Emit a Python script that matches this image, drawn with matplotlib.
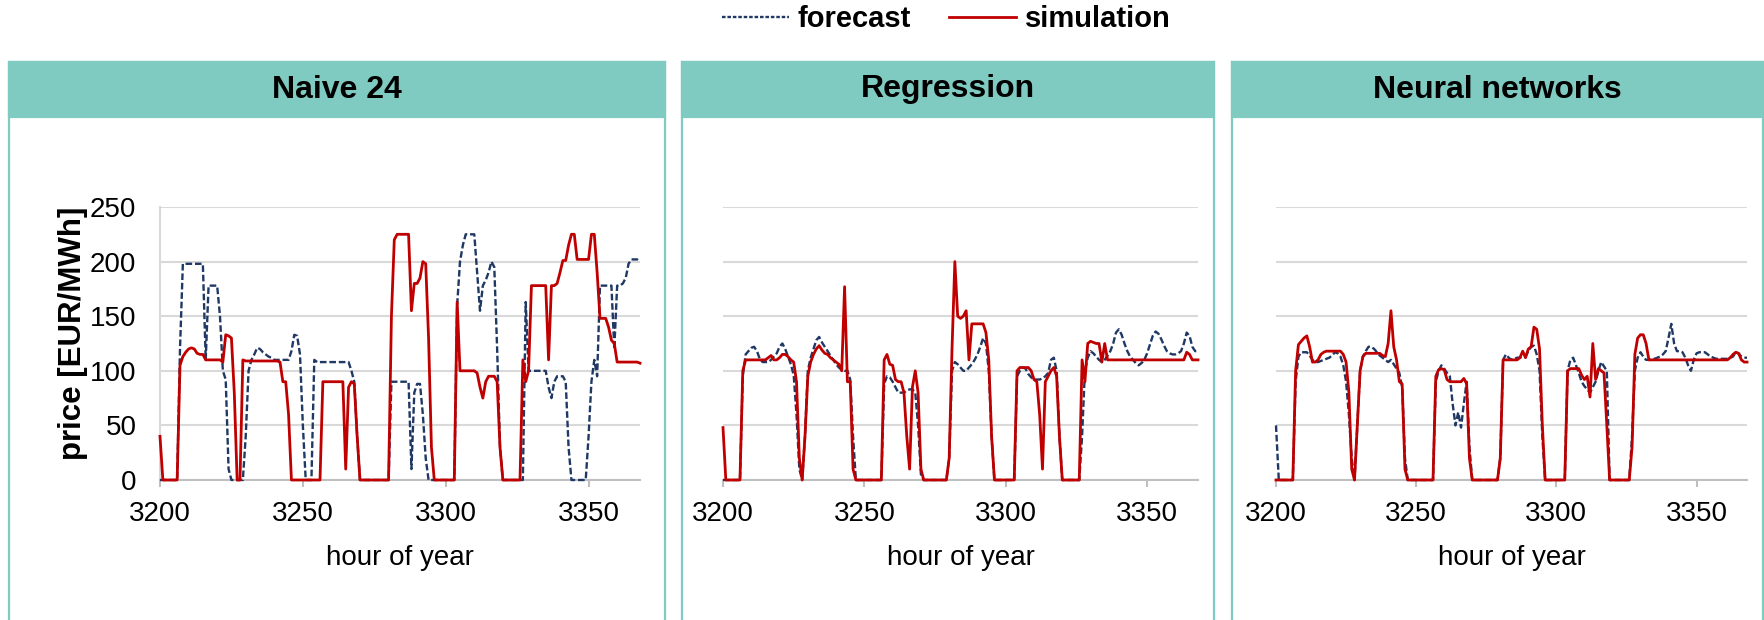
import matplotlib
matplotlib.use("Agg")
import matplotlib.pyplot as plt
from matplotlib.lines import Line2D
from matplotlib.patches import Rectangle

plt.rcParams["font.family"] = ["Liberation Sans", "DejaVu Sans"]

# hour of year 3200 .. 3368 (one week, hourly)
hours = list(range(3200, 3369))

naive_fc = [
    0, 0, 0, 0, 0, 0, 0, 120, 198, 198, 198, 198,
    198, 198, 198, 198, 110, 178, 178, 178, 178, 150, 100, 92,
    10, 0, 0, 0, 0, 0, 40, 100, 110, 115, 121, 120,
    117, 115, 113, 112, 110, 110, 110, 110, 110, 110, 118, 133,
    132, 115, 50, 0, 0, 0, 110, 108, 108, 108, 108, 108,
    108, 108, 108, 108, 108, 108, 108, 100, 90, 40, 0, 0,
    0, 0, 0, 0, 0, 0, 0, 0, 0, 90, 90, 90,
    90, 90, 90, 90, 10, 80, 88, 88, 60, 20, 0, 0,
    0, 0, 0, 0, 0, 0, 0, 0, 160, 200, 215, 225,
    225, 225, 225, 190, 155, 178, 183, 190, 200, 195, 120, 30,
    0, 0, 0, 0, 0, 0, 0, 0, 163, 100, 100, 100,
    100, 100, 100, 100, 85, 75, 90, 95, 95, 95, 90, 30,
    0, 0, 0, 0, 0, 0, 40, 90, 110, 95, 178, 178,
    178, 178, 178, 120, 178, 178, 180, 185, 198, 202, 202, 202,
    200,
]
naive_sim = [
    40, 0, 0, 0, 0, 0, 0, 105, 113, 117, 120, 121,
    120, 116, 115, 115, 110, 110, 110, 110, 110, 110, 108, 133,
    132, 130, 80, 0, 0, 110, 109, 109, 109, 109, 109, 109,
    109, 109, 109, 109, 109, 109, 108, 90, 90, 60, 0, 0,
    0, 0, 0, 0, 0, 0, 0, 0, 0, 90, 90, 90,
    90, 90, 90, 90, 90, 10, 85, 90, 88, 40, 0, 0,
    0, 0, 0, 0, 0, 0, 0, 0, 0, 150, 220, 225,
    225, 225, 225, 225, 155, 180, 180, 185, 200, 198, 130, 30,
    0, 0, 0, 0, 0, 0, 0, 0, 163, 100, 100, 100,
    100, 100, 100, 98, 85, 75, 90, 95, 95, 95, 90, 30,
    0, 0, 0, 0, 0, 0, 0, 110, 90, 100, 178, 178,
    178, 178, 178, 178, 110, 178, 178, 180, 190, 201, 201, 215,
    225, 225, 202, 202, 202, 202, 202, 225, 225, 190, 148, 148,
    148, 140, 128, 125, 108, 108, 108, 108, 108, 108, 108, 108,
    107,
]

regr_fc = [
    0, 0, 0, 0, 0, 0, 0, 95, 115, 118, 121, 122,
    118, 111, 108, 108, 108, 110, 113, 116, 122, 125, 120, 113,
    106, 96, 60, 10, 0, 40, 100, 112, 120, 128, 131, 126,
    122, 118, 114, 110, 106, 103, 101, 100, 100, 92, 40, 0,
    0, 0, 0, 0, 0, 0, 0, 0, 0, 88, 95, 94,
    90, 85, 80, 80, 80, 82, 83, 83, 80, 50, 5, 0,
    0, 0, 0, 0, 0, 0, 0, 0, 20, 100, 108, 106,
    103, 100, 100, 103, 106, 110, 115, 122, 130, 125, 100, 40,
    0, 0, 0, 0, 0, 0, 0, 0, 95, 100, 103, 102,
    97, 94, 92, 92, 92, 93, 95, 98, 110, 112, 100, 40,
    0, 0, 0, 0, 0, 0, 0, 40, 100, 112, 118, 116,
    113, 110, 108, 110, 114, 118, 125, 135, 138, 133, 125, 118,
    113, 110, 107, 105, 107, 110, 116, 124, 132, 136, 134, 129,
    123, 118, 116, 115, 115, 116, 118, 125, 135, 132, 122, 118,
    118,
]
regr_sim = [
    48, 0, 0, 0, 0, 0, 0, 100, 110, 110, 110, 110,
    110, 110, 110, 110, 112, 114, 110, 110, 112, 115, 115, 113,
    110, 108, 90, 20, 0, 40, 95, 108, 115, 120, 123, 119,
    116, 115, 112, 110, 108, 106, 100, 177, 90, 90, 10, 0,
    0, 0, 0, 0, 0, 0, 0, 0, 0, 110, 115, 106,
    105, 92, 90, 90, 80, 40, 10, 85, 100, 80, 10, 0,
    0, 0, 0, 0, 0, 0, 0, 0, 20, 120, 200, 150,
    148, 150, 155, 110, 143, 143, 143, 143, 143, 135, 110, 40,
    0, 0, 0, 0, 0, 0, 0, 0, 100, 103, 103, 103,
    103, 100, 92, 90, 60, 10, 90, 95, 100, 103, 95, 40,
    0, 0, 0, 0, 0, 0, 0, 110, 90, 125, 127, 126,
    125, 125, 108, 125, 110, 110, 110, 110, 110, 110, 110, 110,
    110, 110, 110, 110, 110, 110, 110, 110, 110, 110, 110, 110,
    110, 110, 110, 110, 110, 110, 110, 110, 117, 115, 110, 110,
    110,
]

nn_fc = [
    50, 0, 0, 0, 0, 0, 0, 90, 113, 117, 117, 117,
    114, 110, 108, 108, 109, 110, 111, 112, 114, 117, 116, 113,
    105, 90, 60, 20, 0, 50, 100, 113, 118, 122, 122, 120,
    117, 114, 112, 110, 108, 110, 106, 102, 98, 85, 20, 0,
    0, 0, 0, 0, 0, 0, 0, 0, 0, 90, 100, 105,
    102, 98, 95, 70, 50, 62, 48, 70, 90, 30, 0, 0,
    0, 0, 0, 0, 0, 0, 0, 0, 20, 110, 115, 112,
    110, 111, 112, 112, 113, 113, 118, 122, 123, 115, 100, 40,
    0, 0, 0, 0, 0, 0, 0, 0, 100, 110, 112, 105,
    98, 90, 86, 83, 80, 85, 90, 100, 108, 104, 100, 0,
    0, 0, 0, 0, 0, 0, 0, 40, 100, 112, 117, 113,
    110, 110, 110, 111, 112, 113, 115, 118, 130, 143, 125, 118,
    118, 117, 112, 105, 100, 110, 116, 117, 117, 117, 115, 113,
    112, 111, 111, 111, 111, 111, 112, 113, 117, 116, 113, 112,
    112,
]
nn_sim = [
    0, 0, 0, 0, 0, 0, 0, 100, 124, 127, 130, 132,
    122, 108, 108, 110, 115, 117, 118, 118, 118, 118, 118, 118,
    115, 108, 80, 10, 0, 50, 100, 113, 116, 116, 116, 116,
    116, 116, 114, 113, 125, 155, 122, 110, 90, 88, 10, 0,
    0, 0, 0, 0, 0, 0, 0, 0, 0, 95, 101, 102,
    101, 92, 90, 90, 90, 90, 90, 93, 88, 20, 0, 0,
    0, 0, 0, 0, 0, 0, 0, 0, 20, 110, 110, 110,
    110, 110, 110, 112, 118, 112, 120, 122, 140, 138, 120, 50,
    0, 0, 0, 0, 0, 0, 0, 0, 100, 102, 102, 102,
    102, 96, 92, 95, 76, 125, 92, 102, 100, 98, 50, 0,
    0, 0, 0, 0, 0, 0, 0, 30, 115, 130, 133, 133,
    125, 110, 110, 110, 110, 110, 110, 110, 110, 110, 110, 110,
    110, 110, 110, 110, 110, 110, 110, 110, 110, 110, 110, 110,
    110, 110, 110, 110, 110, 110, 112, 115, 117, 116, 110, 108,
    108,
]

titles = ["Naive 24", "Regression", "Neural networks"]
forecasts = [naive_fc, regr_fc, nn_fc]
simulations = [naive_sim, regr_sim, nn_sim]

W, H = 1765, 620
TEAL = "#7fcbc1"
BLUE = "#1f3864"
RED = "#c00000"
GRID = "#d9d9d9"
AXC = "#bfbfbf"
DASH = (0, (2.8, 1.2))

fig = plt.figure(figsize=(W / 100, H / 100), dpi=100)

# panel boxes (pixels): x0, x1 of box, axes left/right
boxes = [(9, 665, 160, 640), (682, 1214, 723, 1198), (1232, 1763, 1276, 1747)]
ax_top, ax_bot = 207, 480
hdr_top, hdr_bot = 62, 117

for i, (bx0, bx1, axl, axr) in enumerate(boxes):
    # outer frame runs off the bottom of the figure
    fig.patches.append(Rectangle((bx0 / W, -0.05), (bx1 - bx0) / W, 1.05 - hdr_top / H,
                                 transform=fig.transFigure, fill=False,
                                 edgecolor=TEAL, lw=1.6, zorder=0))
    fig.patches.append(Rectangle((bx0 / W, 1 - hdr_bot / H), (bx1 - bx0) / W,
                                 (hdr_bot - hdr_top) / H, transform=fig.transFigure,
                                 facecolor=TEAL, edgecolor=TEAL, lw=1.6, zorder=0))
    fig.text((bx0 + bx1) / 2 / W, 1 - (hdr_top + hdr_bot) / 2 / H, titles[i],
             ha="center", va="center", fontsize=23, fontweight="bold")

    ax = fig.add_axes([axl / W, 1 - ax_bot / H, (axr - axl) / W, (ax_bot - ax_top) / H])
    ax.plot(hours, forecasts[i], color=BLUE, lw=1.7, ls=DASH, clip_on=False,
            dash_joinstyle="round", zorder=3)
    ax.plot(hours, simulations[i], color=RED, lw=2.0, clip_on=False,
            solid_joinstyle="round", zorder=4)

    ax.set_xlim(3200, 3368)
    ax.set_ylim(0, 250)
    ax.set_xticks([3200, 3250, 3300, 3350])
    ax.set_yticks([0, 50, 100, 150, 200, 250])
    ax.grid(axis="y", color=GRID, lw=1.5)
    ax.set_axisbelow(True)
    for s in ["top", "right"]:
        ax.spines[s].set_visible(False)
    ax.spines["bottom"].set_color(AXC)
    ax.spines["bottom"].set_linewidth(1.5)
    ax.tick_params(axis="x", direction="out", length=5, width=1.5, color=AXC,
                   labelsize=20, pad=10)
    if i == 0:
        ax.spines["left"].set_color(GRID)
        ax.spines["left"].set_linewidth(1.5)
        ax.tick_params(axis="y", length=0, labelsize=20, pad=17)
    else:
        ax.spines["left"].set_visible(False)
        ax.tick_params(axis="y", length=0, labelleft=False)
    ax.set_xlabel("hour of year", fontsize=20)
    ax.xaxis.set_label_coords(0.5, -0.237)

fig.text(73 / W, 1 - 333 / H, "price [EUR/MWh]", rotation=90, ha="center",
         va="center", fontsize=22.5, fontweight="bold")

handles = [Line2D([], [], color=BLUE, lw=1.7, ls=(0, (1.5, 0.8))),
           Line2D([], [], color=RED, lw=2.0)]
fig.legend(handles, ["forecast", "simulation"], loc="center",
           bbox_to_anchor=(946 / W, 1 - 19 / H), ncol=2, frameon=False,
           prop={"size": 21, "weight": "bold"}, handlelength=2.3,
           handletextpad=0.3, columnspacing=1.3)

fig.savefig("out.png", dpi=100)
